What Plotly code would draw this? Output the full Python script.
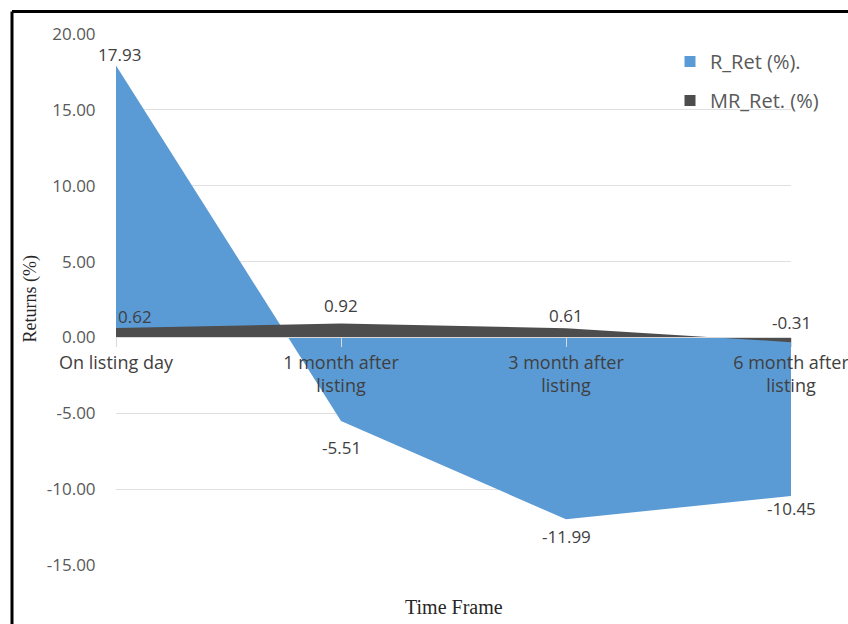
import plotly.graph_objects as go

# Series data
categories = ["On listing day", "1 month after<br>listing", "3 month after<br>listing", "6 month after<br>listing"]
r_ret = [17.93, -5.51, -11.99, -10.45]
mr_ret = [0.62, 0.92, 0.61, -0.31]
y_ticks = [20, 15, 10, 5, 0, -5, -10, -15]

W, H = 848, 624
ML, MR, MT, MB = 116, 57, 34, 59
PW, PH = W - ML - MR, H - MT - MB
Y0, Y1 = -15, 20

BLUE = "#5B9BD5"
GREY = "#4D4D4D"
SANS = "'Open Sans', Lato, sans-serif"
SERIF = "'Liberation Serif', 'Times New Roman', serif"


def px_x(p):
    return (p - ML) / PW


def px_y(p):
    return (H - MB - p) / PH


xs = list(range(len(categories)))

fig = go.Figure()
fig.add_trace(go.Scatter(x=xs, y=r_ret, mode="lines", fill="tozeroy",
                         line=dict(width=0, color=BLUE), fillcolor=BLUE,
                         showlegend=False, hoverinfo="skip"))
fig.add_trace(go.Scatter(x=xs, y=mr_ret, mode="lines", fill="tozeroy",
                         line=dict(width=0, color=GREY), fillcolor=GREY,
                         showlegend=False, hoverinfo="skip"))

# Legend entries as small squares
fig.add_trace(go.Scatter(x=[None], y=[None], mode="markers", name="R_Ret (%).",
                         marker=dict(symbol="square", size=11, color=BLUE),
                         legendgroup="a"))
fig.add_trace(go.Scatter(x=[None], y=[None], mode="markers", name="MR_Ret. (%)",
                         marker=dict(symbol="square", size=11, color=GREY),
                         legendgroup="b"))

# Data labels (pixel offsets from each point)
r_shift = [(3, 11), (0, -26), (0, -17), (0, -13)]
mr_shift = [(19, 12), (0, 18), (0, 13), (0, 20)]
for series, shifts in ((r_ret, r_shift), (mr_ret, mr_shift)):
    for i, v in enumerate(series):
        dx, dy = shifts[i]
        fig.add_annotation(x=xs[i], y=v, text=f"{v:.2f}", showarrow=False,
                           xshift=dx, yshift=dy,
                           font=dict(family=SANS, size=17, color="#404040"))

# Axis titles
fig.add_annotation(xref="paper", yref="paper", x=0.5, y=px_y(607),
                   yanchor="middle", text="Time Frame", showarrow=False,
                   font=dict(family=SERIF, size=20, color="#262626"))
fig.add_annotation(xref="paper", yref="paper", x=px_x(30), y=0.5,
                   xanchor="center", text="Returns (%)", showarrow=False,
                   textangle=-90,
                   font=dict(family=SERIF, size=18, color="#262626"))

# Frame around the chart
fig.add_shape(type="line", xref="paper", yref="paper",
              x0=px_x(12), x1=px_x(W + 5), y0=px_y(11.5), y1=px_y(11.5),
              line=dict(color="black", width=3))
fig.add_shape(type="line", xref="paper", yref="paper",
              x0=px_x(12), x1=px_x(12), y0=px_y(11.5), y1=px_y(H + 5),
              line=dict(color="black", width=3))

fig.update_layout(
    width=W, height=H,
    margin=dict(l=ML, r=MR, t=MT, b=MB, autoexpand=False),
    paper_bgcolor="white", plot_bgcolor="white",
    legend=dict(x=px_x(670), y=px_y(42), xanchor="left", yanchor="top",
                bgcolor="rgba(0,0,0,0)", tracegroupgap=10,
                font=dict(family=SANS, size=20, color="#595959")),
    xaxis=dict(
        range=[0, 3], tickmode="array", tickvals=xs, ticktext=categories,
        anchor="free", position=(0 - Y0) / (Y1 - Y0), automargin=False,
        showgrid=False, zeroline=False,
        showline=True, linecolor="#D9D9D9", linewidth=1,
        ticks="outside", ticklen=9, tickcolor="#D9D9D9",
        ticklabeloverflow="allow",
        tickfont=dict(family=SANS, size=18, color="#404040"),
    ),
    yaxis=dict(
        range=[Y0, Y1], tickmode="array", tickvals=y_ticks,
        ticktext=[f"{t:.2f}" for t in y_ticks], automargin=False,
        showgrid=True, gridcolor="#E0E0E0", gridwidth=1,
        zeroline=False, showline=False,
        ticks="outside", ticklen=16, tickcolor="rgba(0,0,0,0)",
        tickfont=dict(family=SANS, size=17, color="#595959"),
    ),
)

fig.write_html("out.html")
